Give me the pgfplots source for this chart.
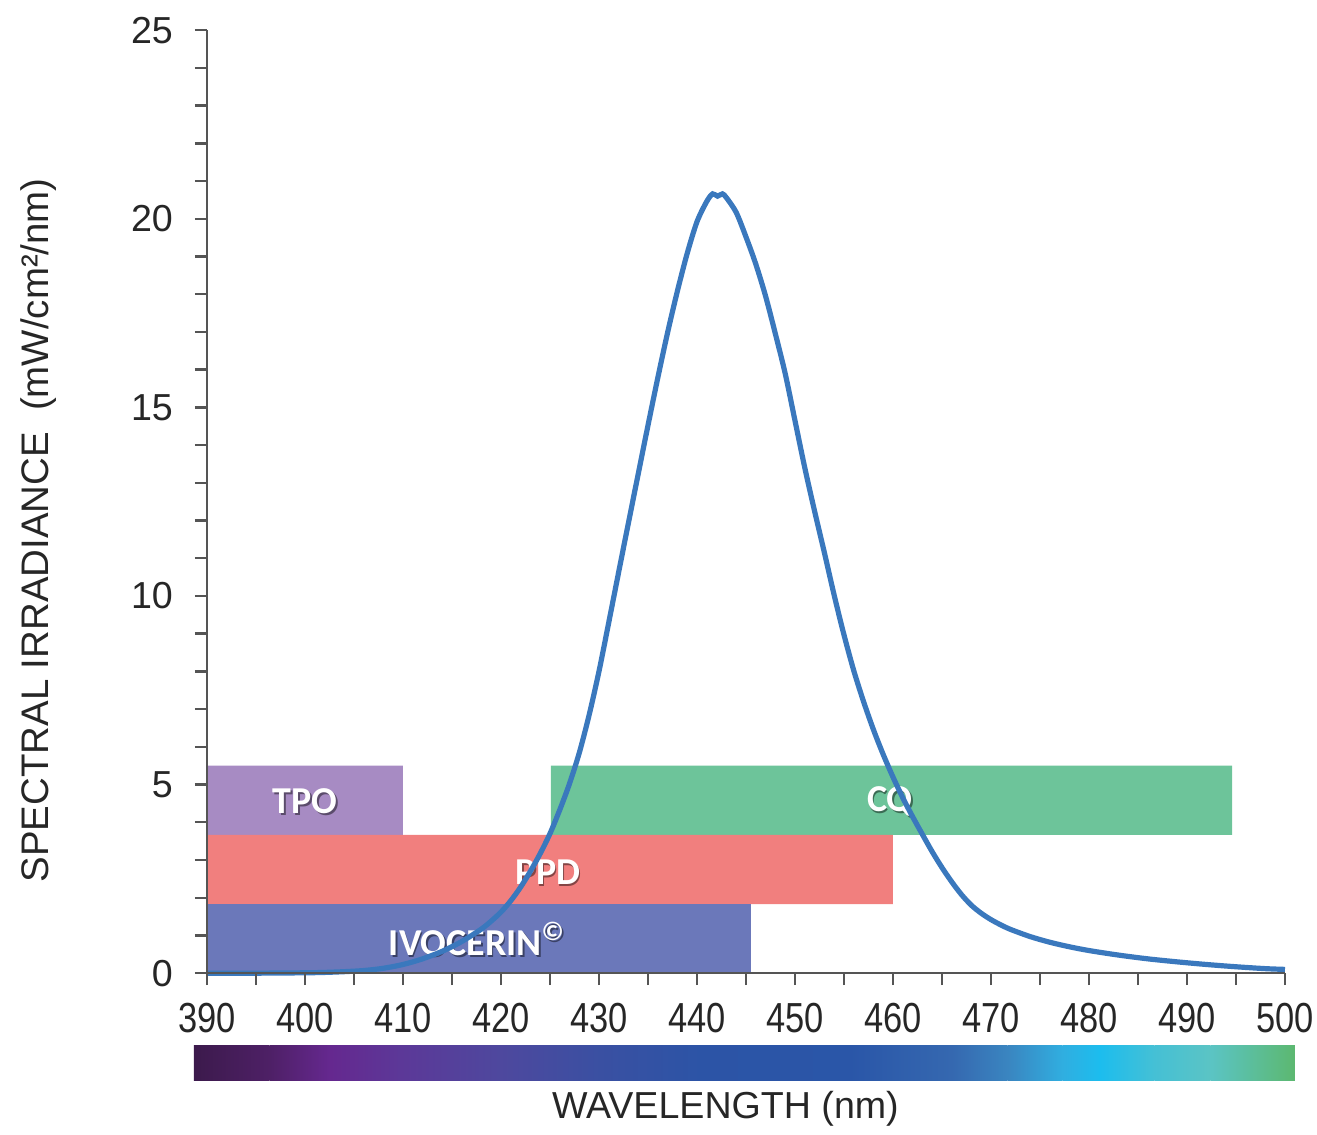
\documentclass[border=0pt]{standalone}
\usepackage{pgfplots}
\pgfplotsset{compat=1.18}
\usepackage{pgfplotstable}
\usepackage{fontspec}
\setmainfont{Liberation Sans}
\newfontfamily\calibri{Carlito}
\definecolor{tpo}{HTML}{A78BC3}
\definecolor{ppd}{HTML}{F17F7E}
\definecolor{ivo}{HTML}{6B78BA}
\definecolor{cq}{HTML}{6DC49A}
\definecolor{curve}{HTML}{3A78BD}
\definecolor{axgray}{HTML}{555555}
\definecolor{c1}{HTML}{3C1A4C}
\definecolor{c2}{HTML}{4E2066}
\definecolor{c3}{HTML}{65288F}
\definecolor{c4}{HTML}{5C3898}
\definecolor{c5}{HTML}{4E489E}
\definecolor{c6}{HTML}{3A50A2}
\definecolor{c7}{HTML}{2C54A6}
\definecolor{c8}{HTML}{2A56A8}
\definecolor{c9}{HTML}{3568B0}
\definecolor{c10}{HTML}{3A85C0}
\definecolor{c11}{HTML}{30AEE0}
\definecolor{c12}{HTML}{1CBDEE}
\definecolor{c13}{HTML}{45C0D5}
\definecolor{c14}{HTML}{5BC4C4}
\definecolor{c15}{HTML}{5CB870}

\pgfplotstableread{
x y
390 0.0
395 0.0
400 0.01
402 0.02
404 0.04
406 0.07
408 0.13
410 0.23
412 0.38
414 0.58
416 0.84
418 1.17
419 1.38
420 1.62
421 1.92
422 2.28
423 2.70
424 3.17
425 3.70
426 4.33
427 5.03
428 5.85
429 6.85
430 8.00
431 9.30
432 10.62
433 11.93
434 13.23
435 14.52
436 15.78
437 16.98
438 18.08
439 19.08
440 19.92
441 20.46
441.6 20.66
442.1 20.60
442.6 20.66
443 20.56
444 20.17
445 19.52
446 18.80
447 17.95
448 16.95
449 15.90
450 14.65
451 13.40
452 12.25
453 11.15
454 10.02
455 8.97
456 8.02
457 7.20
458 6.46
459 5.80
460 5.20
461 4.65
462 4.15
463 3.68
464 3.22
465 2.80
466 2.42
467 2.08
468 1.80
469 1.59
470 1.42
471 1.28
472 1.16
474 0.97
476 0.82
478 0.70
480 0.60
483 0.48
486 0.38
489 0.30
492 0.23
495 0.17
498 0.12
500 0.10
}\curvedata

\newcommand{\barlabel}[3]{%
  \node[text=black, opacity=0.45, font=\calibri\bfseries\fontsize{9.5}{10}\selectfont, xshift=0.4pt, yshift=-0.4pt] at (axis cs:#1,#2) {#3};
  \node[text=white, font=\calibri\bfseries\fontsize{9.5}{10}\selectfont] at (axis cs:#1,#2) {#3};
}
\newcommand{\seg}[4]{%
  \shade[left color=#2, right color=#4] (axis cs:#1,-1.91) rectangle (axis cs:#3,-2.84);
}

\begin{document}
\begin{tikzpicture}
\begin{axis}[
  scale only axis,
  width=269.5pt, height=235.75pt,
  xmin=390, xmax=500, ymin=0, ymax=25,
  axis x line*=bottom, axis y line*=left,
  axis line style={axgray, line width=0.6pt},
  xtick={390,400,...,500},
  minor xtick={395,405,...,495},
  ytick={0,5,...,25},
  minor ytick={1,2,3,4,6,7,8,9,11,12,13,14,16,17,18,19,21,22,23,24},
  tick align=outside,
  major tick length=3pt, minor tick length=3pt,
  tick style={axgray, line width=0.6pt},
  yticklabel style={font=\fontsize{9.4}{10}\selectfont, text=black!85, xshift=-2pt},
  xticklabel style={font=\fontsize{10.5}{11}\selectfont, text=black!85, yshift=-1pt},
  xticklabel={\scalebox{0.82}[1]{\pgfmathprintnumber{\tick}}},
  /pgf/number format/assume math mode=true,
  /pgf/number format/1000 sep={},
  clip=false,
  axis on top=true,
]
\coordinate (bbA) at (axis cs:368.88,25.8);
\coordinate (bbB) at (axis cs:503.27,-4.27);

\addplot[fill=tpo, draw=none] coordinates {(390,3.667) (410,3.667) (410,5.5) (390,5.5) (390,3.667)};
\addplot[fill=cq, draw=none] coordinates {(425.1,3.667) (494.6,3.667) (494.6,5.5) (425.1,5.5) (425.1,3.667)};
\addplot[fill=ppd, draw=none] coordinates {(390,1.833) (460,1.833) (460,3.667) (390,3.667) (390,1.833)};
\addplot[fill=ivo, draw=none] coordinates {(390,0) (445.5,0) (445.5,1.833) (390,1.833) (390,0)};

\barlabel{400}{4.55}{TPO}
\barlabel{424.8}{2.68}{PPD}
\barlabel{417.6}{0.9}{IVOCERIN\textsuperscript{©}}
\barlabel{459.7}{4.55}{CQ}

\addplot[curve, line width=1.3pt, smooth, tension=0.5] table[x=x,y=y] {\curvedata};

% wavelength colour bar
\seg{388.67}{c1}{396.4}{c2}
\seg{396.4}{c2}{402.55}{c3}
\seg{402.55}{c3}{409.7}{c4}
\seg{409.7}{c4}{419.9}{c5}
\seg{419.9}{c5}{430.1}{c6}
\seg{430.1}{c6}{440.3}{c7}
\seg{440.3}{c7}{455.6}{c8}
\seg{455.6}{c8}{466}{c9}
\seg{466}{c9}{471.7}{c10}
\seg{471.7}{c10}{477.3}{c11}
\seg{477.3}{c11}{481.1}{c12}
\seg{481.1}{c12}{486.7}{c13}
\seg{486.7}{c13}{492.4}{c14}
\seg{492.4}{c14}{501.0}{c15}

\node[font=\fontsize{9.4}{11}\selectfont, text=black!85] at (axis cs:442.9,-3.6) {WAVELENGTH (nm)};
\node[font=\fontsize{9.6}{11}\selectfont, text=black!85, rotate=90] at (axis cs:372.8,11.74) {SPECTRAL IRRADIANCE\ \ (mW/cm²/nm)};
\end{axis}
\pgfresetboundingbox
\path[use as bounding box] (bbA) rectangle (bbB);
\end{tikzpicture}
\end{document}
